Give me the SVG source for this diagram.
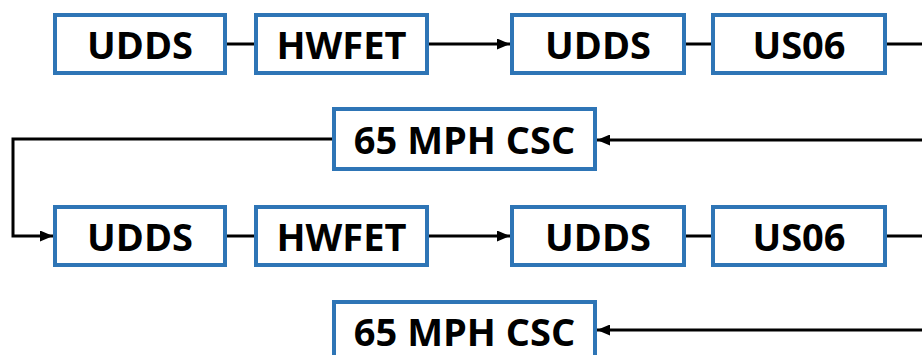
<svg xmlns="http://www.w3.org/2000/svg" width="922" height="355" viewBox="0 0 922 355">
<defs>
<style>
.box{fill:#fff;stroke:#2E75B6;stroke-width:4}
.lbl{font-family:"Open Sans","Liberation Sans",sans-serif;font-weight:bold;font-size:38px;fill:#000;text-anchor:middle;dominant-baseline:central}
.c{fill:none;stroke:#000;stroke-width:3}
</style>
<marker id="ah" viewBox="0 0 13 11" refX="13" refY="5.5" markerWidth="13" markerHeight="11" markerUnits="userSpaceOnUse" orient="auto">
<path d="M0,0 L13,5.5 L0,11 Z" fill="#000"/>
</marker>
</defs>
<rect width="922" height="355" fill="#fff"/>
<g id="connectors">
<line class="c" x1="227" y1="44" x2="254" y2="44"/>
<line class="c" x1="429" y1="44" x2="510" y2="44" marker-end="url(#ah)"/>
<line class="c" x1="686" y1="44" x2="711" y2="44"/>
<line class="c" x1="887" y1="44" x2="922" y2="44"/>
<line class="c" x1="922" y1="140" x2="597" y2="140" marker-end="url(#ah)"/>
<polyline class="c" points="332,139 13,139 13,236 53,236" marker-end="url(#ah)"/>
<line class="c" x1="227" y1="236" x2="254" y2="236"/>
<line class="c" x1="429" y1="236" x2="510" y2="236" marker-end="url(#ah)"/>
<line class="c" x1="686" y1="236" x2="711" y2="236"/>
<line class="c" x1="887" y1="236" x2="922" y2="236"/>
<line class="c" x1="922" y1="330" x2="597" y2="330" marker-end="url(#ah)"/>
</g>
<g id="n1"><rect class="box" x="55" y="15" width="170" height="58"/><text class="lbl" x="140" y="44">UDDS</text></g>
<g id="n2"><rect class="box" x="256" y="15" width="171" height="58"/><text class="lbl" x="341.5" y="44">HWFET</text></g>
<g id="n3"><rect class="box" x="512" y="15" width="172" height="58"/><text class="lbl" x="598" y="44">UDDS</text></g>
<g id="n4"><rect class="box" x="713" y="15" width="172" height="58"/><text class="lbl" x="799" y="44">US06</text></g>
<g id="n5"><rect class="box" x="334" y="109" width="261" height="60"/><text class="lbl" x="464.5" y="139">65 MPH CSC</text></g>
<g id="n6"><rect class="box" x="55" y="207" width="170" height="58"/><text class="lbl" x="140" y="236">UDDS</text></g>
<g id="n7"><rect class="box" x="256" y="207" width="171" height="58"/><text class="lbl" x="341.5" y="236">HWFET</text></g>
<g id="n8"><rect class="box" x="512" y="207" width="172" height="58"/><text class="lbl" x="598" y="236">UDDS</text></g>
<g id="n9"><rect class="box" x="713" y="207" width="172" height="58"/><text class="lbl" x="799" y="236">US06</text></g>
<g id="n10"><rect class="box" x="334" y="302" width="261" height="60"/><text class="lbl" x="464.5" y="331">65 MPH CSC</text></g>
</svg>
